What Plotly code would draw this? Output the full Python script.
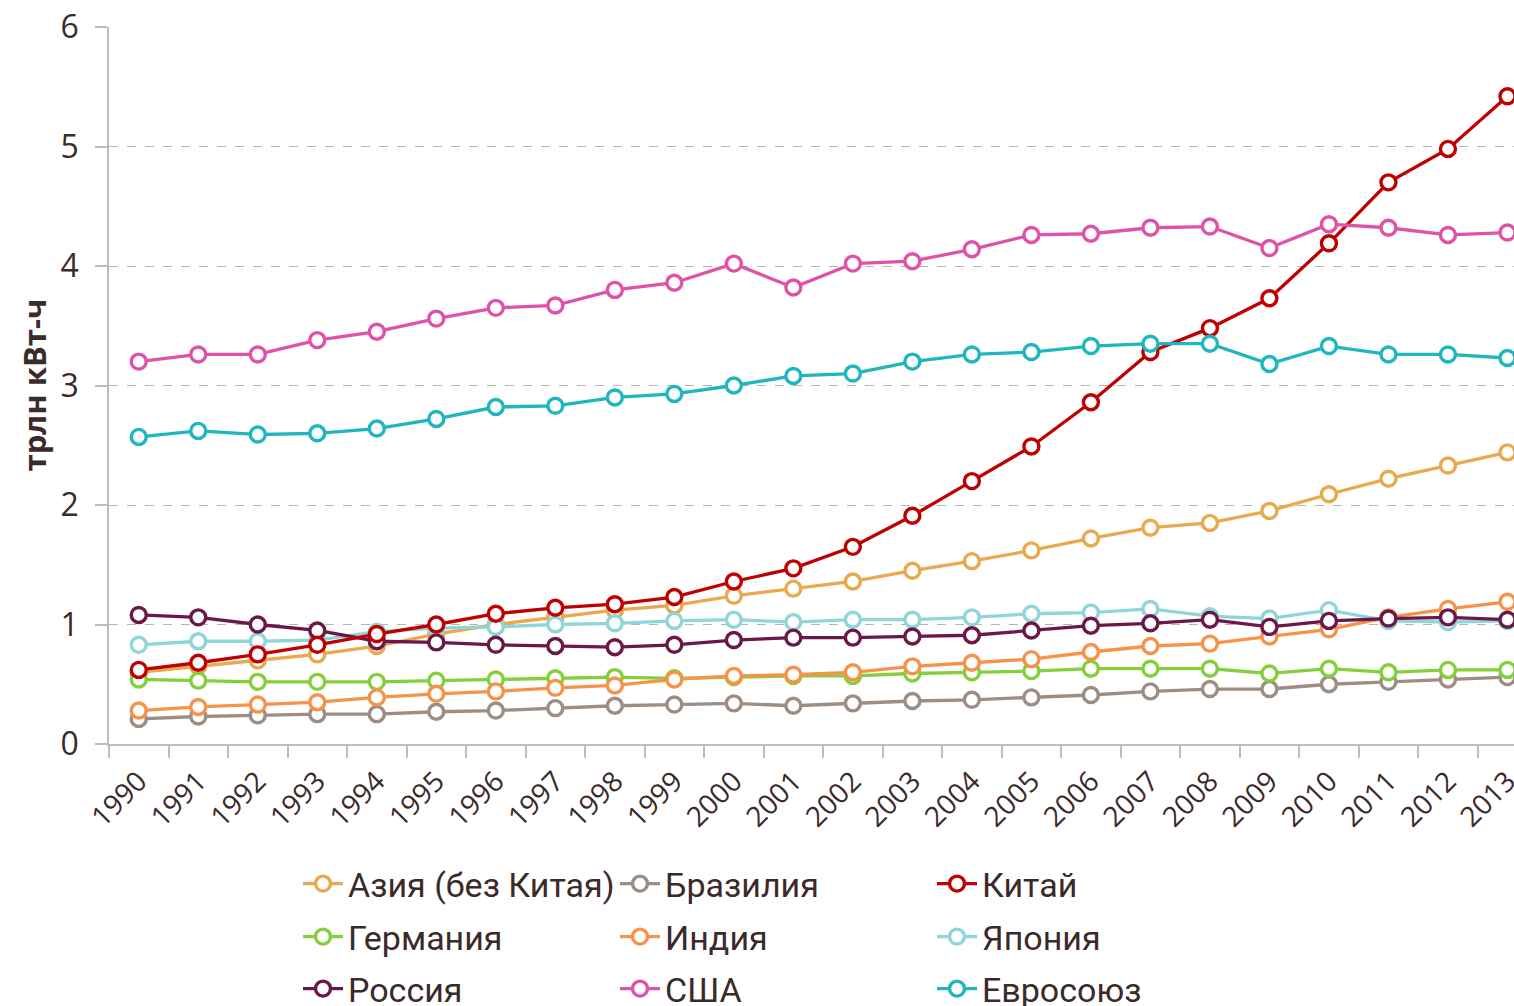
import plotly.graph_objects as go

years = [str(y) for y in range(1990, 2014)]

asia = [0.60, 0.65, 0.70, 0.75, 0.82, 0.92, 1.00, 1.06, 1.12, 1.16, 1.24, 1.30, 1.36, 1.45, 1.53, 1.62, 1.72, 1.81, 1.85, 1.95, 2.09, 2.22, 2.33, 2.44]
brazil = [0.21, 0.23, 0.24, 0.25, 0.25, 0.27, 0.28, 0.30, 0.32, 0.33, 0.34, 0.32, 0.34, 0.36, 0.37, 0.39, 0.41, 0.44, 0.46, 0.46, 0.50, 0.52, 0.54, 0.56]
china = [0.62, 0.68, 0.75, 0.83, 0.92, 1.00, 1.09, 1.14, 1.17, 1.23, 1.36, 1.47, 1.65, 1.91, 2.20, 2.49, 2.86, 3.28, 3.48, 3.73, 4.19, 4.70, 4.98, 5.42]
germany = [0.54, 0.53, 0.52, 0.52, 0.52, 0.53, 0.54, 0.55, 0.56, 0.55, 0.56, 0.57, 0.57, 0.59, 0.60, 0.61, 0.63, 0.63, 0.63, 0.59, 0.63, 0.60, 0.62, 0.62]
india = [0.28, 0.31, 0.33, 0.35, 0.39, 0.42, 0.44, 0.47, 0.49, 0.54, 0.57, 0.58, 0.60, 0.65, 0.68, 0.71, 0.77, 0.82, 0.84, 0.90, 0.96, 1.06, 1.13, 1.19]
japan = [0.83, 0.86, 0.86, 0.87, 0.94, 0.97, 0.98, 1.00, 1.01, 1.03, 1.04, 1.02, 1.04, 1.04, 1.06, 1.09, 1.10, 1.13, 1.07, 1.05, 1.12, 1.03, 1.02, 1.03]
russia = [1.08, 1.06, 1.00, 0.95, 0.86, 0.85, 0.83, 0.82, 0.81, 0.83, 0.87, 0.89, 0.89, 0.90, 0.91, 0.95, 0.99, 1.01, 1.04, 0.98, 1.03, 1.05, 1.06, 1.04]
usa = [3.20, 3.26, 3.26, 3.38, 3.45, 3.56, 3.65, 3.67, 3.80, 3.86, 4.02, 3.82, 4.02, 4.04, 4.14, 4.26, 4.27, 4.32, 4.33, 4.15, 4.35, 4.32, 4.26, 4.28]
eu = [2.57, 2.62, 2.59, 2.60, 2.64, 2.72, 2.82, 2.83, 2.90, 2.93, 3.00, 3.08, 3.10, 3.20, 3.26, 3.28, 3.33, 3.35, 3.35, 3.18, 3.33, 3.26, 3.26, 3.23]

series = [
    ("Азия (без Китая)", asia, "#E9A94F", "legend"),
    ("Бразилия", brazil, "#9E8D83", "legend"),
    ("Китай", china, "#C00000", "legend"),
    ("Германия", germany, "#84CF3C", "legend2"),
    ("Индия", india, "#F79249", "legend2"),
    ("Япония", japan, "#8FD6D8", "legend2"),
    ("Россия", russia, "#6B1848", "legend3"),
    ("США", usa, "#E052A8", "legend3"),
    ("Евросоюз", eu, "#1FB6BF", "legend3"),
]

draw_order = ["Азия (без Китая)", "Бразилия", "Германия", "Индия", "Япония", "Россия", "Китай", "США", "Евросоюз"]

TXT = "#3B2A2A"
FONT = "Roboto, sans-serif"

fig = go.Figure()
for name, vals, col, lg in series:
    fig.add_trace(go.Scatter(
        x=years, y=vals, name=name, mode="lines+markers",
        line=dict(color=col, width=3.3),
        marker=dict(symbol="circle", size=15, color="white", line=dict(color=col, width=3.4)),
        legend=lg,
    ))

leg_common = dict(orientation="h", entrywidth=262, entrywidthmode="pixels",
                  font=dict(family=FONT, size=34, color=TXT), bgcolor="rgba(0,0,0,0)",
                  itemwidth=40, xanchor="left", yanchor="middle", itemclick=False,
                  traceorder="normal")
lx = (298 - 109) / 1405
fig.update_layout(
    width=1514, height=1006,
    margin=dict(l=109, r=0, t=27, b=262, autoexpand=False),
    paper_bgcolor="white", plot_bgcolor="white",
    font=dict(family=FONT, color=TXT),
    showlegend=True,
    legend=dict(**leg_common, x=lx, y=(744 - 884) / 717),
    legend2=dict(**leg_common, x=lx, y=(744 - 937) / 717),
    legend3=dict(**leg_common, x=lx, y=(744 - 989) / 717),
    xaxis=dict(
        type="category", range=[-0.5, 23.11],
        showline=True, linecolor="#BDBDBD", linewidth=1.5,
        ticks="outside", tickson="boundaries", ticklen=12, tickcolor="#BDBDBD", tickwidth=1.5,
        tickangle=-45, tickfont=dict(family="Open Sans, sans-serif", size=28, color=TXT),
        ticklabelstandoff=8,
        showgrid=False, zeroline=False,
    ),
    yaxis=dict(
        range=[0, 6], tickvals=[0, 1, 2, 3, 4, 5, 6],
        showline=True, linecolor="#BDBDBD", linewidth=1.5,
        ticks="outside", ticklen=12, tickcolor="#BDBDBD", tickwidth=1.5,
        tickfont=dict(family="Open Sans, sans-serif", size=32, color=TXT),
        ticklabelstandoff=10,
        showgrid=True, gridcolor="#B5B5B5", griddash="dash", gridwidth=1,
        zeroline=False,
    ),
    annotations=[dict(
        text="<b>трлн кВт-ч</b>", x=(33 - 109) / 1405, y=0.5, xref="paper", yref="paper",
        xanchor="center", yanchor="middle", textangle=-90, showarrow=False,
        font=dict(family="Open Sans, sans-serif", size=31, color=TXT),
    )],
)

name_to_trace = {t.name: t for t in fig.data}
fig.data = tuple(name_to_trace[n] for n in draw_order)

fig.write_html("out.html", config={"displayModeBar": False},
               post_script="document.body.style.margin='0';document.body.style.overflow='hidden';")
